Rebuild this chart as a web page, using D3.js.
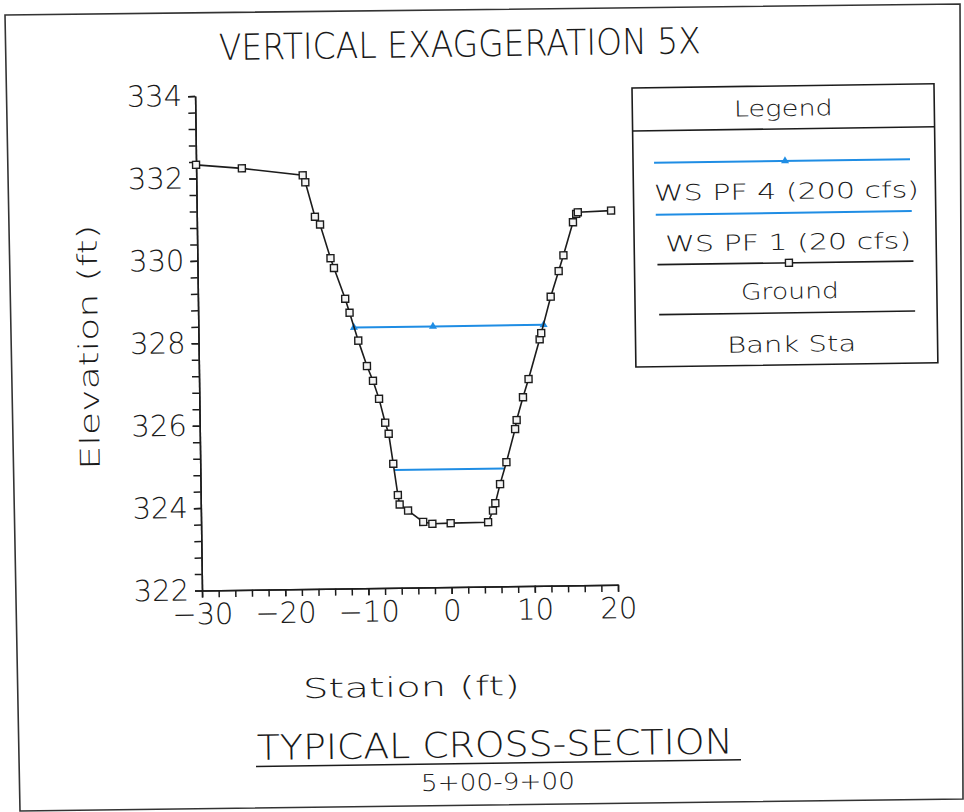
<!DOCTYPE html>
<html><head><meta charset="utf-8">
<script src="https://cdn.jsdelivr.net/npm/d3@7"></script>
<style>
html,body{margin:0;padding:0;background:#fff;}
svg{display:block;}
text{font-family:"DejaVu Sans",sans-serif;font-weight:200;fill:#1a1a1a;}
</style></head><body>
<svg id="chart" width="964" height="812"></svg>
<script>
// ---- data ----
const groundStation = [-30, -24.5, -17.2, -16.9, -15.8, -15.2, -14.0, -13.6, -12.3, -11.8, -10.8, -9.8, -9.1, -8.4, -7.7, -7.3, -6.8, -6.3, -6.1, -5.1, -3.3, -2.2, 0.0, 4.5, 5.1, 5.4, 6.0, 6.8, 7.9, 8.1, 8.9, 9.6, 11.0, 11.2, 12.4, 13.4, 14.0, 15.2, 15.6, 15.8, 19.8];
const groundElevation = [332.33, 332.23, 332.04, 331.87, 331.03, 330.84, 330.02, 329.78, 329.03, 328.69, 328.01, 327.39, 327.03, 326.59, 326.01, 325.74, 325.01, 324.25, 324.02, 323.87, 323.59, 323.54, 323.55, 323.56, 323.84, 324.02, 324.48, 325.01, 325.81, 326.03, 326.58, 327.02, 327.98, 328.13, 329.01, 329.63, 330.01, 330.81, 331.01, 331.05, 331.08];
const ws200Station = [-11.3, -1.8, 11.5];
const ws200Elevation = [328.33, 328.33, 328.33];
const ws20Station = [-6.65, 6.55];
const ws20Elevation = [324.86, 324.86];
const xTickValues = [-30, -20, -10, 0, 10, 20];
const yTickValues = [322, 324, 326, 328, 330, 332, 334];
const legendLabels = ["WS PF 4 (200 cfs)", "WS PF 1 (20 cfs)", "Ground", "Bank Sta"];
const titleText = "VERTICAL EXAGGERATION 5X";
const xLabel = "Station (ft)";
const yLabel = "Elevation (ft)";
const captionText = "TYPICAL CROSS-SECTION";
const subCaptionText = "5+00-9+00";

// ---- layout ----
const BLUE = "#1f8de4", INK = "#1c1c1c";
const C = [202, 590.5];          // plot corner (station -30, elev 322)
const ANG = 0.8;                 // scan tilt in degrees
function U(x, y) {               // measured (tilted) position -> untilted frame
  const a = ANG * Math.PI / 180, dx = x - C[0], dy = y - C[1];
  return [C[0] + dx * Math.cos(a) - dy * Math.sin(a), C[1] + dx * Math.sin(a) + dy * Math.cos(a)];
}

const svg = d3.select("#chart");
svg.append("rect").attr("width", 964).attr("height", 812).attr("fill", "#fff");
// page frame
svg.append("path").attr("d", "M5,15 L960,4 L963,799 L20,811 Z")
  .attr("fill", "none").attr("stroke", "#333").attr("stroke-width", 1.6);

const g = svg.append("g").attr("transform", `rotate(${-ANG},${C[0]},${C[1]})`);

const x = d3.scaleLinear().domain([-30, 20]).range([C[0], C[0] + 416]);
const y = d3.scaleLinear().domain([322, 334]).range([C[1], C[1] - 494.5]);

// axes
function styleAxis(sel) {
  sel.selectAll("path,line").attr("stroke", INK).attr("stroke-width", 1.5);
  sel.selectAll("text").attr("fill", INK).style("font-size", "29px")
     .style("font-family", '"DejaVu Sans",sans-serif').style("font-weight", 200);
}
g.append("g").attr("transform", `translate(${C[0]},0)`)
  .call(d3.axisLeft(y).tickValues(d3.range(0, 31).map(i => 322 + i * 0.4)).tickSize(7).tickSizeOuter(0).tickFormat(""))
  .call(styleAxis);
g.append("g").attr("transform", `translate(${C[0]},0)`)
  .call(d3.axisLeft(y).tickValues(yTickValues).tickSize(7).tickPadding(6).tickSizeOuter(0).tickFormat(d3.format("d")))
  .call(styleAxis);
g.append("g").attr("transform", `translate(0,${C[1]})`)
  .call(d3.axisBottom(x).tickValues(d3.range(-30, 21, 2)).tickSize(7).tickSizeOuter(0).tickFormat(""))
  .call(styleAxis);
g.append("g").attr("transform", `translate(0,${C[1]})`)
  .call(d3.axisBottom(x).tickValues(xTickValues).tickSize(7).tickPadding(6).tickSizeOuter(0).tickFormat(d3.format("d")))
  .call(styleAxis);

const line = d3.line().x(d => x(d[0])).y(d => y(d[1]));
const ground = groundStation.map((s, i) => [s, groundElevation[i]]);
const ws200 = ws200Station.map((s, i) => [s, ws200Elevation[i]]);
const ws20 = ws20Station.map((s, i) => [s, ws20Elevation[i]]);

g.append("path").datum(ws20).attr("d", line).attr("fill", "none").attr("stroke", BLUE).attr("stroke-width", 2);
g.append("path").datum(ws200).attr("d", line).attr("fill", "none").attr("stroke", BLUE).attr("stroke-width", 2);
const tri = d3.symbol().type(d3.symbolTriangle).size(28);
g.selectAll(".ws200m").data(ws200).join("path").attr("class", "ws200m")
  .attr("transform", d => `translate(${x(d[0])},${y(d[1])})`).attr("d", tri).attr("fill", BLUE);

g.append("path").datum(ground).attr("d", line).attr("fill", "none").attr("stroke", INK).attr("stroke-width", 1.6);
g.selectAll(".gm").data(ground).join("rect").attr("class", "gm")
  .attr("x", d => x(d[0]) - 3.5).attr("y", d => y(d[1]) - 3.5).attr("width", 7).attr("height", 7)
  .attr("fill", "#f4f4f4").attr("stroke", INK).attr("stroke-width", 1.4);

// texts
function addText(str, mx, my, len, size, anchor) {
  const p = U(mx, my);
  return g.append("text").attr("x", p[0]).attr("y", p[1]).attr("text-anchor", anchor || "start")
    .attr("textLength", len).attr("lengthAdjust", "spacingAndGlyphs").style("font-size", size + "px").text(str);
}
addText(titleText, 219, 60, 482, 36);
addText(xLabel, 303, 698, 217, 27);
addText(captionText, 257, 760, 476, 35);
addText(subCaptionText, 421, 791, 154, 23);
{
  const p1 = U(256, 766.5), p2 = U(741, 760);
  g.append("line").attr("x1", p1[0]).attr("y1", p1[1]).attr("x2", p2[0]).attr("y2", p1[1])
    .attr("stroke", INK).attr("stroke-width", 1.6);
}
{
  const p = U(98, 347);
  g.append("text").attr("transform", `translate(${p[0]},${p[1]}) rotate(-90)`).attr("text-anchor", "middle")
    .attr("textLength", 245).attr("lengthAdjust", "spacingAndGlyphs").style("font-size", "27px").text(yLabel);
}

// legend
const L0 = U(632, 88);
const lg = g.append("g").attr("transform", `translate(${L0[0]},${L0[1]})`);
lg.append("rect").attr("width", 302).attr("height", 279).attr("fill", "#fff").attr("stroke", INK).attr("stroke-width", 1.6);
lg.append("line").attr("x1", 0).attr("x2", 302).attr("y1", 43).attr("y2", 43).attr("stroke", INK).attr("stroke-width", 1.6);
lg.append("text").attr("x", 151).attr("y", 30).attr("text-anchor", "middle").attr("textLength", 99)
  .attr("lengthAdjust", "spacingAndGlyphs").style("font-size", "22px").text("Legend");
const legendLineY = [75, 127, 177, 227];
const legendTextY = [113, 164, 213, 266];
const legendTextLen = [265, 246, 98, 129];
const legendColors = [BLUE, BLUE, INK, INK];
legendLabels.forEach((lab, i) => {
  lg.append("line").attr("x1", 21 + i).attr("x2", 277 + i).attr("y1", legendLineY[i]).attr("y2", legendLineY[i])
    .attr("stroke", legendColors[i]).attr("stroke-width", i < 2 ? 2 : 1.6);
  lg.append("text").attr("x", 153 + i).attr("y", legendTextY[i]).attr("text-anchor", "middle")
    .attr("textLength", legendTextLen[i]).attr("lengthAdjust", "spacingAndGlyphs").style("font-size", "22px").text(lab);
});
lg.append("path").attr("transform", `translate(152,${legendLineY[0]})`).attr("d", tri).attr("fill", BLUE);
lg.append("rect").attr("x", 151).attr("y", legendLineY[2] - 3.5).attr("width", 7).attr("height", 7)
  .attr("fill", "#f4f4f4").attr("stroke", INK).attr("stroke-width", 1.4);
</script>
</body></html>
